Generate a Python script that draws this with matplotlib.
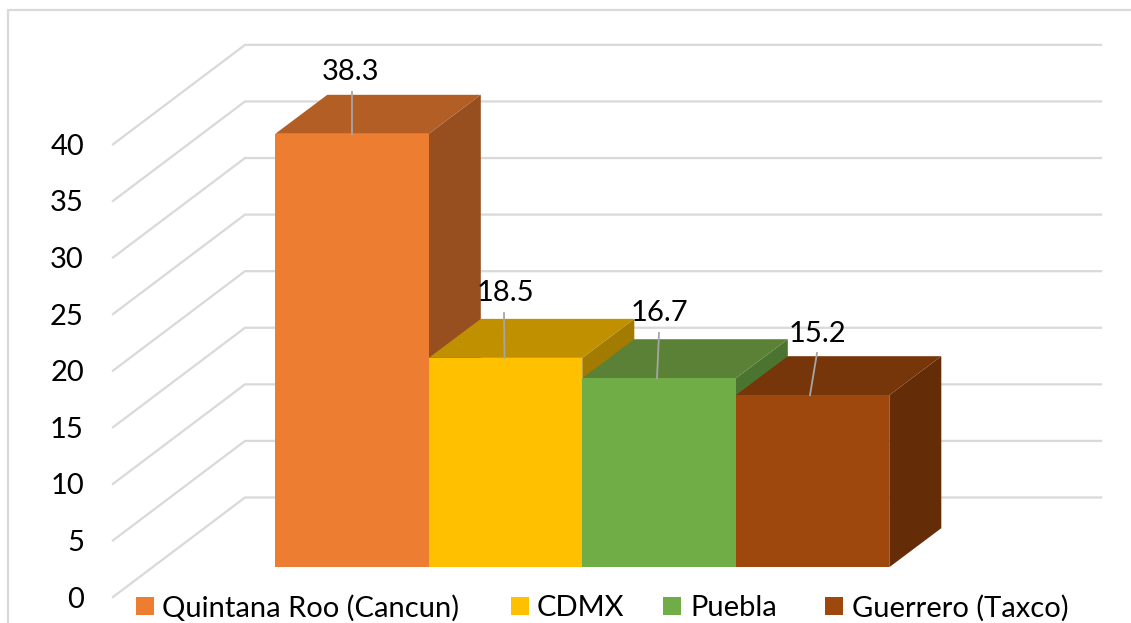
import matplotlib
matplotlib.use('Agg')
import matplotlib.pyplot as plt
from matplotlib.patches import Polygon, Rectangle

plt.rcParams['font.family'] = ['Lato', 'DejaVu Sans']

categories = ['Quintana Roo (Cancun)', 'CDMX', 'Puebla', 'Guerrero (Taxco)']
values = [38.3, 18.5, 16.7, 15.2]
ticks = [0, 5, 10, 15, 20, 25, 30, 35, 40]

front_colors = ['#ED7D31', '#FFC000', '#70AD47', '#9E480E']
top_colors = ['#B25E25', '#C09000', '#5A8136', '#773609']
side_colors = ['#974F20', '#A37B00', '#4B7430', '#652C08']

W, H = 1131, 623
fig = plt.figure(figsize=(W / 100, H / 100), dpi=100, facecolor='white')
ax = fig.add_axes([0, 0, 1, 1])

# one x unit is one bar wide, y stays in chart units
bar_px = 153.5
unit_px = 11.316
left_px = 275.3
base_px = 567.2
ax.set_xlim(-left_px / bar_px, (W - left_px) / bar_px)
ax.set_ylim(-(H - base_px) / unit_px, base_px / unit_px)
ax.axis('off')

depth_x = 52 / bar_px
depth_y = 39 / unit_px


def xpx(x):
    return (x - left_px) / bar_px


def ypx(y):
    return (base_px - y) / unit_px


def fx(x):
    return x / W


def fy(y):
    return 1 - y / H


# outer chart frame
ax.plot([xpx(8), xpx(8), xpx(1131)], [ypx(623), ypx(10), ypx(10)],
        color='#D9D9D9', lw=1.6, zorder=1, solid_joinstyle='miter')

# gridlines: slanted floor/wall run, then the back wall
for t in ticks:
    front = ypx(597) + t
    back = ypx(497.5) + t
    ax.plot([xpx(113), xpx(245), xpx(1101)], [front, back, back],
            color='#D9D9D9', lw=1.6, zorder=1, solid_joinstyle='miter')
    ax.text(xpx(84), front, str(t), ha='right', va='center_baseline', fontsize=21, color='black', zorder=5)

# bars go left to right so each top covers the side of the previous bar
for i, v in enumerate(values):
    top = Polygon([(i, v), (i + 1, v), (i + 1 + depth_x, v + depth_y), (i + depth_x, v + depth_y)],
                  closed=True, fc=top_colors[i], ec='none', zorder=2 + i * 0.1)
    side = Polygon([(i + 1, 0), (i + 1 + depth_x, depth_y), (i + 1 + depth_x, v + depth_y), (i + 1, v)],
                   closed=True, fc=side_colors[i], ec='none', zorder=2 + i * 0.1)
    ax.add_patch(side)
    ax.add_patch(top)
    ax.add_patch(Rectangle((i, 0), 1, v, fc=front_colors[i], ec='none', zorder=2.05 + i * 0.1))

# leader lines and value labels
label_x = [351, 505, 659, 817]
label_y = [69, 290, 310, 331]
leader_top = [(352, 92), (504, 313), (659, 333), (817, 353)]
leader_x = [352, 504.5, 657, 810]
for i, v in enumerate(values):
    ax.plot([xpx(leader_x[i]), xpx(leader_top[i][0])], [v, ypx(leader_top[i][1])],
            color='#A6A6A6', lw=1.3, zorder=3)
    ax.text(xpx(label_x[i]), ypx(label_y[i]), f'{v:.1f}', ha='center', va='center_baseline',
            fontsize=21, color='black', zorder=5)

# legend row
swatch_x = [136, 511, 663, 825]
text_x = [162, 537, 690, 852]
for i, name in enumerate(categories):
    fig.add_artist(Rectangle((fx(swatch_x[i]), fy(615)), 18 / W, 18 / H, transform=fig.transFigure,
                             fc=front_colors[i], ec='none'))
    fig.text(fx(text_x[i]), fy(606), name, ha='left', va='center_baseline', fontsize=21, color='black')

fig.savefig('out.png', dpi=100, facecolor='white')
